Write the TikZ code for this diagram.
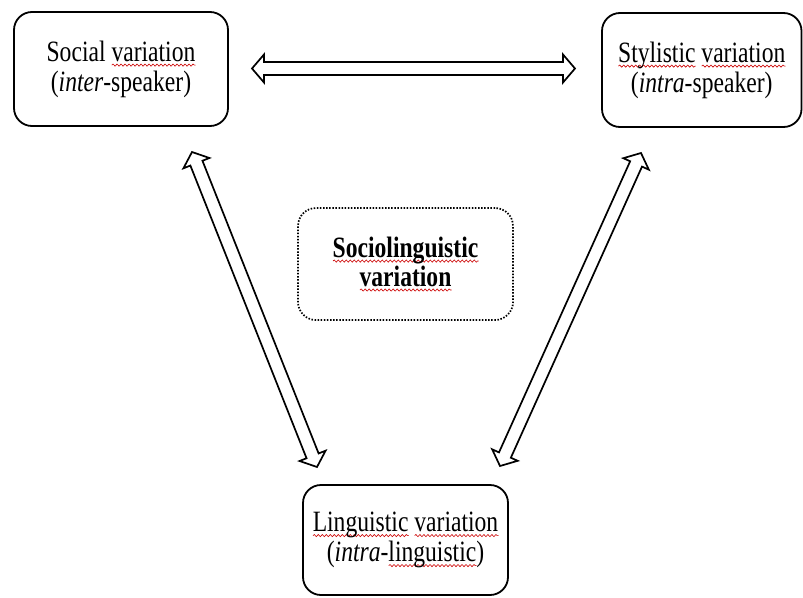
\documentclass[tikz,border=0pt]{standalone}
\usepackage{fontspec}
\setmainfont{Liberation Serif}[FakeStretch=0.8]
\usetikzlibrary{calc,decorations.pathmorphing}
% red spell-check squiggle under a word
\newsavebox\sqbox
\newlength\sqlen
\tikzset{sqline/.style={draw=red!80!black, solid, sharp corners, line width=0.6pt,
  decorate, decoration={snake, amplitude=1.1pt, segment length=4pt}}}
\newcommand{\sqw}[1]{\sbox\sqbox{#1}\setlength\sqlen{\wd\sqbox}%
  \rlap{\tikz[baseline=0pt]\path[sqline] (0pt,-4pt) -- (\sqlen,-4pt);}\usebox\sqbox}
% outlined two-headed block arrow between two named points
\newcommand{\blockarrow}[2]{%
  \coordinate (#1-h) at ($(#1)!12pt!(#2)$);
  \coordinate (#2-h) at ($(#2)!12pt!(#1)$);
  \draw[arrowline] (#1) -- ($(#1-h)!14pt!90:(#2)$) -- ($(#1-h)!6.5pt!90:(#2)$)
    -- ($(#2-h)!6.5pt!-90:(#1)$) -- ($(#2-h)!14pt!-90:(#1)$) -- (#2)
    -- ($(#2-h)!14pt!90:(#1)$) -- ($(#2-h)!6.5pt!90:(#1)$)
    -- ($(#1-h)!6.5pt!-90:(#2)$) -- ($(#1-h)!14pt!-90:(#2)$) -- cycle;}
\begin{document}
\begin{tikzpicture}[x=1pt,y=-1pt,
  box/.style={draw, line width=1.8pt, rounded corners=18pt, align=center,
    font=\fontsize{29.5}{30}\selectfont, inner sep=0pt},
  dotbox/.style={box, line width=1.7pt, dash pattern=on 1.5pt off 1.6pt,
    font=\fontsize{29.5}{29}\selectfont\bfseries},
  arrowline/.style={draw, fill=white, line width=1.7pt, line join=miter}]
\useasboundingbox (0,0) rectangle (803,597);

\node[box, minimum width=214pt, minimum height=114pt] (soc) at (121,69)
  {Social \sqw{variation}\\(\emph{inter}-speaker)};
\node[box, minimum width=199.5pt, minimum height=114pt] (sty) at (701.75,70)
  {\sqw{Stylistic} \sqw{variation}\\(\emph{intra}-speaker)};
\node[dotbox, minimum width=215pt, minimum height=112pt] (soling) at (405.5,264)
  {\sqw{Sociolinguistic}\\\sqw{variation}};
\node[box, minimum width=205pt, minimum height=110pt] (ling) at (405.5,540)
  {\sqw{Linguistic} \sqw{variation}\\(\emph{intra}-\sqw{linguistic})};

% arrow end points beside the boxes
\coordinate (socR) at (252,68.5);
\coordinate (styL) at (575,68.5);
\coordinate (socB) at (192,152);
\coordinate (lingL) at (317,467);
\coordinate (styB) at (641,153);
\coordinate (lingR) at (500,466);

\blockarrow{socR}{styL}
\blockarrow{socB}{lingL}
\blockarrow{styB}{lingR}
\end{tikzpicture}
\end{document}
